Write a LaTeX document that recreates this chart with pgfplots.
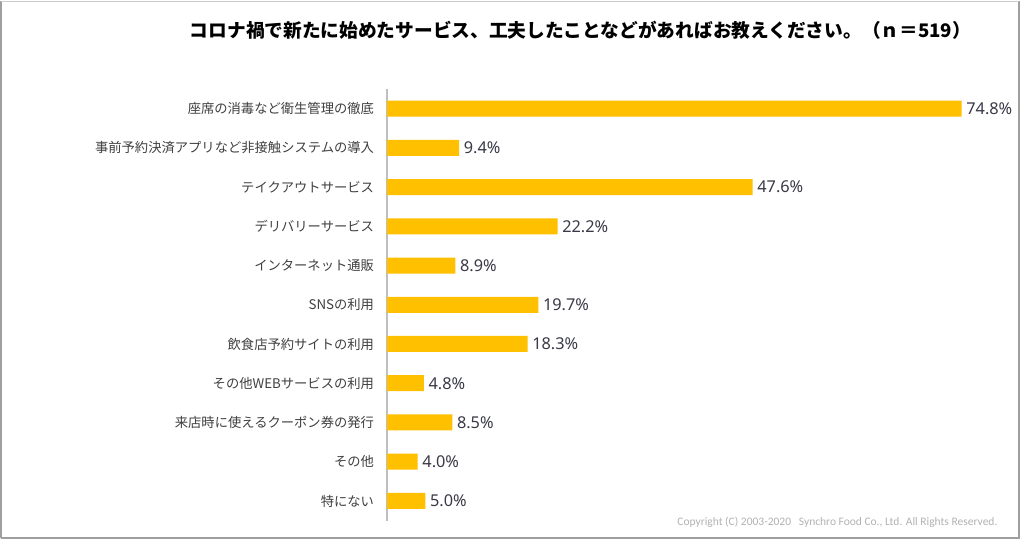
\documentclass[border=0pt]{standalone}
\usepackage{fontspec}
\usepackage{pgfplots}
\pgfplotsset{compat=1.18}
\setmainfont{Noto Sans}
\newfontfamily\cjk{Noto Sans CJK JP}
\newfontfamily\carl{Carlito}
\definecolor{barc}{HTML}{FFC000}
\definecolor{txt}{HTML}{404040}
\definecolor{valc}{HTML}{3A3A48}
\begin{document}
\begin{tikzpicture}[x=1pt,y=1pt]
\useasboundingbox (0,0) rectangle (1024,540);
\fill[white] (0,0) rectangle (1024,540);
\draw[gray!75, line width=1.2pt] (1,2) -- (1,539) (1019,539) -- (1019,2) -- (1,2);
\draw[gray!40, line width=0.6pt] (1,539) -- (1019,539);
\node[font=\cjk\bfseries\fontsize{18.7}{22}\selectfont, text=black] at (580.5,510) {コロナ禍で新たに始めたサービス、工夫したことなどがあればお教えください。（ｎ＝519）};
\begin{axis}[
  at={(387pt,19.4pt)}, anchor=south west,
  scale only axis, width=614.6pt, height=431.7pt,
  xbar, bar width=16pt,
  xmin=0, xmax=80, ymin=-0.5, ymax=10.5,
  y dir=reverse,
  hide x axis,
  axis y line*=left,
  y axis line style={draw=black!25, line width=1.6pt, -},
  ytick={0,...,10},
  yticklabels={座席の消毒など衛生管理の徹底,事前予約決済アプリなど非接触システムの導入,テイクアウトサービス,デリバリーサービス,インターネット通販,SNSの利用,飲食店予約サイトの利用,その他WEBサービスの利用,来店時に使えるクーポン券の発行,その他,特にない},
  major tick length=0pt,
  yticklabel style={font=\cjk\fontsize{13.3}{16}\selectfont, text=txt, xshift=-9.5pt},
  /pgf/number format/assume math mode=true,
  nodes near coords={\pgfmathprintnumber[fixed,fixed zerofill,precision=1,assume math mode=true]{\pgfplotspointmeta}\%},
  nodes near coords style={font=\fontsize{16.3}{19}\selectfont, text=valc, anchor=west, inner sep=4.5pt},
  point meta=x,
  clip=false,
]
\addplot[draw=none, fill=barc] coordinates {
(74.8,0) (9.4,1) (47.6,2) (22.2,3) (8.9,4) (19.7,5) (18.3,6) (4.8,7) (8.5,8) (4.0,9) (5.0,10)
};
\end{axis}
\node[font=\carl\fontsize{11.5}{13}\selectfont, text=black!30, anchor=base east] at (1001,14) {Copyright (C) 2003-2020\ \ \ Synchro Food Co., Ltd. All Rights Reserved.};
\end{tikzpicture}
\end{document}
